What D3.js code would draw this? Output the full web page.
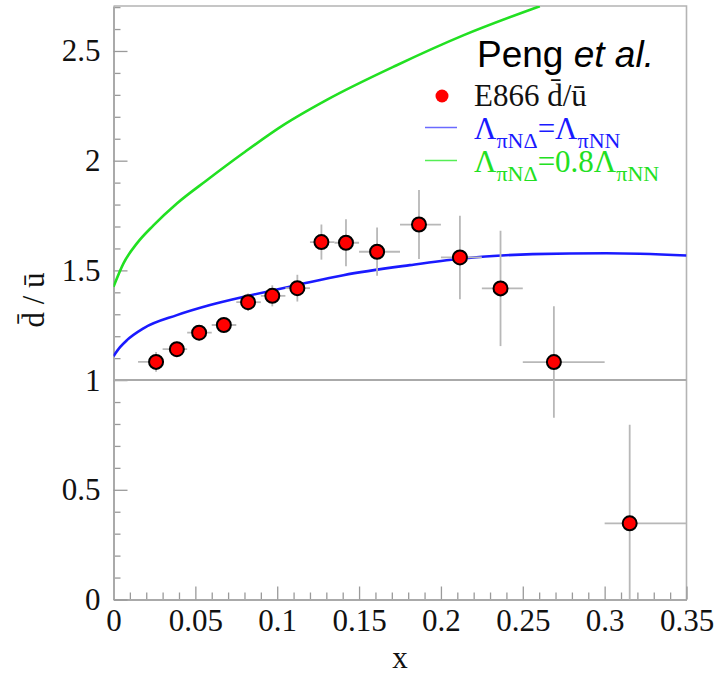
<!DOCTYPE html>
<html>
<head>
<meta charset="utf-8">
<script src="https://cdn.jsdelivr.net/npm/d3@7"></script>
<style>
  html, body { margin: 0; padding: 0; background: #fff; }
  svg { display: block; }
  .serif { font-family: "Liberation Serif", "Times New Roman", serif; }
  .sans { font-family: "Liberation Sans", Arial, sans-serif; }
</style>
</head>
<body>
<svg id="chart" width="728" height="675"></svg>
<script>
// E866 d-bar/u-bar ratio: bin centres, bin edges, ratio and uncertainty
const xCenter = [0.026, 0.0387, 0.0523, 0.0674, 0.0822, 0.097, 0.1123, 0.127, 0.142, 0.161, 0.1866, 0.2116, 0.2364, 0.269, 0.3153];
const xLow    = [0.015, 0.030, 0.045, 0.060, 0.075, 0.090, 0.105, 0.120, 0.135, 0.150, 0.175, 0.200, 0.225, 0.250, 0.300];
const xHigh   = [0.030, 0.045, 0.060, 0.075, 0.090, 0.105, 0.120, 0.135, 0.150, 0.175, 0.200, 0.225, 0.250, 0.300, 0.350];
const ratio   = [1.083, 1.141, 1.216, 1.251, 1.355, 1.384, 1.419, 1.629, 1.626, 1.585, 1.709, 1.559, 1.418, 1.082, 0.347];
const ratioErr= [0.045, 0.035, 0.035, 0.035, 0.040, 0.048, 0.061, 0.080, 0.107, 0.110, 0.157, 0.190, 0.263, 0.254, 0.450];

// Model curves (Peng et al.)
const blueX = [0.0, 0.004, 0.0082, 0.0183, 0.0387, 0.059, 0.0822, 0.112, 0.1404, 0.181, 0.2116, 0.256, 0.301, 0.35];
const blueY = [1.109, 1.150, 1.182, 1.236, 1.296, 1.342, 1.384, 1.433, 1.478, 1.524, 1.553, 1.574, 1.578, 1.568];
const greenX = [0.0, 0.0061, 0.0143, 0.0244, 0.0387, 0.057, 0.0793, 0.1037, 0.130, 0.173, 0.2136, 0.2604];
const greenY = [1.425, 1.532, 1.623, 1.705, 1.805, 1.911, 2.035, 2.162, 2.276, 2.435, 2.571, 2.704];

// Axis ticks
const xMajorTicks = [0, 0.05, 0.1, 0.15, 0.2, 0.25, 0.3, 0.35];
const xTickLabels = ["0", "0.05", "0.1", "0.15", "0.2", "0.25", "0.3", "0.35"];
const yMajorTicks = [0, 0.5, 1, 1.5, 2, 2.5];
const yTickLabels = ["0", "0.5", "1", "1.5", "2", "2.5"];

const svg = d3.select("#chart");
const plotLeft = 113.5, plotRight = 686.5, plotTop = 6, plotBottom = 599.5;

const x = d3.scaleLinear().domain([0, 0.35]).range([plotLeft, plotRight]);
const y = d3.scaleLinear().domain([0, 2.705]).range([plotBottom, plotTop]);

const axisColor = "#9a9a9a";

svg.append("defs").append("clipPath").attr("id", "plotclip")
  .append("rect").attr("x", plotLeft).attr("y", plotTop)
  .attr("width", plotRight - plotLeft).attr("height", plotBottom - plotTop);

// frame (top and right edges)
svg.append("path")
  .attr("d", `M${plotLeft},${plotTop}H${plotRight}V${plotBottom}`)
  .attr("fill", "none").attr("stroke", "#b4b4b4").attr("stroke-width", 1.6);

// minor ticks
const xMinor = d3.range(0, 36).map(i => i / 100).filter(v => !xMajorTicks.some(t => Math.abs(t - v) < 1e-9));
const yMinor = d3.range(0, 28).map(i => i / 10).filter(v => !yMajorTicks.some(t => Math.abs(t - v) < 1e-9));

const xMinorAxis = svg.append("g").attr("transform", `translate(0,${plotBottom})`)
  .call(d3.axisBottom(x).tickValues(xMinor).tickSize(-7).tickFormat(""));
const yMinorAxis = svg.append("g").attr("transform", `translate(${plotLeft},0)`)
  .call(d3.axisLeft(y).tickValues(yMinor).tickSize(-7).tickFormat(""));
[xMinorAxis, yMinorAxis].forEach(g => {
  g.select(".domain").remove();
  g.selectAll("line").attr("stroke", axisColor).attr("stroke-width", 1.3);
});

// major axes
const xAxis = svg.append("g").attr("transform", `translate(0,${plotBottom})`)
  .call(d3.axisBottom(x).tickValues(xMajorTicks).tickSize(-13).tickSizeOuter(0).tickPadding(9)
    .tickFormat((d, i) => xTickLabels[i]));
const yAxis = svg.append("g").attr("transform", `translate(${plotLeft},0)`)
  .call(d3.axisLeft(y).tickValues(yMajorTicks).tickSize(-14).tickSizeOuter(0).tickPadding(13)
    .tickFormat((d, i) => yTickLabels[i]));
[xAxis, yAxis].forEach(g => {
  g.select(".domain").attr("stroke", "#aaaaaa").attr("stroke-width", 2);
  g.selectAll("line").attr("stroke", axisColor).attr("stroke-width", 1.3);
  g.selectAll("text").attr("class", "serif").attr("font-size", 31).attr("fill", "#111");
});

// reference line at ratio = 1
svg.append("line")
  .attr("x1", x(0)).attr("x2", x(0.35)).attr("y1", y(1)).attr("y2", y(1))
  .attr("stroke", "#aaaaaa").attr("stroke-width", 2);

const plot = svg.append("g").attr("clip-path", "url(#plotclip)");

// model curves
const curve = d3.line().x(d => x(d[0])).y(d => y(d[1])).curve(d3.curveMonotoneX);
plot.append("path").datum(d3.zip(greenX, greenY)).attr("d", curve)
  .attr("fill", "none").attr("stroke", "#22e022").attr("stroke-width", 2.6);
plot.append("path").datum(d3.zip(blueX, blueY)).attr("d", curve)
  .attr("fill", "none").attr("stroke", "#1a1aff").attr("stroke-width", 2.6);

// data points with error bars
const pts = xCenter.map((xc, i) => ({ xc, lo: xLow[i], hi: xHigh[i], r: ratio[i], e: ratioErr[i] }));
const eb = plot.append("g").attr("stroke", "#b8b8b8").attr("stroke-width", 1.8);
eb.selectAll(".h").data(pts).join("line")
  .attr("x1", d => x(d.lo)).attr("x2", d => x(d.hi))
  .attr("y1", d => y(d.r)).attr("y2", d => y(d.r));
eb.selectAll(".v").data(pts).join("line")
  .attr("x1", d => x(d.xc)).attr("x2", d => x(d.xc))
  .attr("y1", d => y(d.r - d.e)).attr("y2", d => y(d.r + d.e));
plot.append("g").selectAll("circle").data(pts).join("circle")
  .attr("cx", d => x(d.xc)).attr("cy", d => y(d.r)).attr("r", 7)
  .attr("fill", "#ff0000").attr("stroke", "#000").attr("stroke-width", 2);

// axis titles
svg.append("text").attr("class", "serif").attr("font-size", 31).attr("fill", "#111")
  .attr("x", 400).attr("y", 668).attr("text-anchor", "middle").text("x");
svg.append("text").attr("class", "serif").attr("font-size", 31).attr("fill", "#111")
  .attr("text-anchor", "middle")
  .attr("transform", "translate(44,300) rotate(-90)")
  .text("d\u0304 / \u016B");

// legend
const lg = svg.append("g");
const peng = lg.append("text").attr("class", "sans").attr("font-size", 37).attr("fill", "#000")
  .attr("x", 477).attr("y", 67);
peng.append("tspan").text("Peng ");
peng.append("tspan").attr("font-style", "italic").text("et al.");

lg.append("circle").attr("cx", 442).attr("cy", 96).attr("r", 6.5).attr("fill", "#ff0000");
lg.append("text").attr("class", "serif").attr("font-size", 31).attr("fill", "#111")
  .attr("x", 474).attr("y", 106).text("E866 d\u0304/\u016B");

// Λ labels: main text with smaller, lowered subscripts
function lambdaLabel(yBase, color, parts) {
  const t = lg.append("text").attr("class", "serif").attr("fill", color)
    .attr("x", 474).attr("y", yBase);
  parts.forEach(([txt, sub]) => {
    t.append("tspan")
      .attr("y", sub ? yBase + 9 : yBase)
      .attr("font-size", sub ? 22 : 31)
      .text(txt);
  });
}
lg.append("line").attr("x1", 425).attr("x2", 457).attr("y1", 127.5).attr("y2", 127.5)
  .attr("stroke", "#6a6aff").attr("stroke-width", 1.5);
lambdaLabel(139, "#1a1aff", [["\u039B", false], ["\u03C0N\u0394", true], ["=\u039B", false], ["\u03C0NN", true]]);
lg.append("line").attr("x1", 425).attr("x2", 457).attr("y1", 160.5).attr("y2", 160.5)
  .attr("stroke", "#55ee55").attr("stroke-width", 1.5);
lambdaLabel(172, "#22e022", [["\u039B", false], ["\u03C0N\u0394", true], ["=0.8\u039B", false], ["\u03C0NN", true]]);
</script>
</body>
</html>
